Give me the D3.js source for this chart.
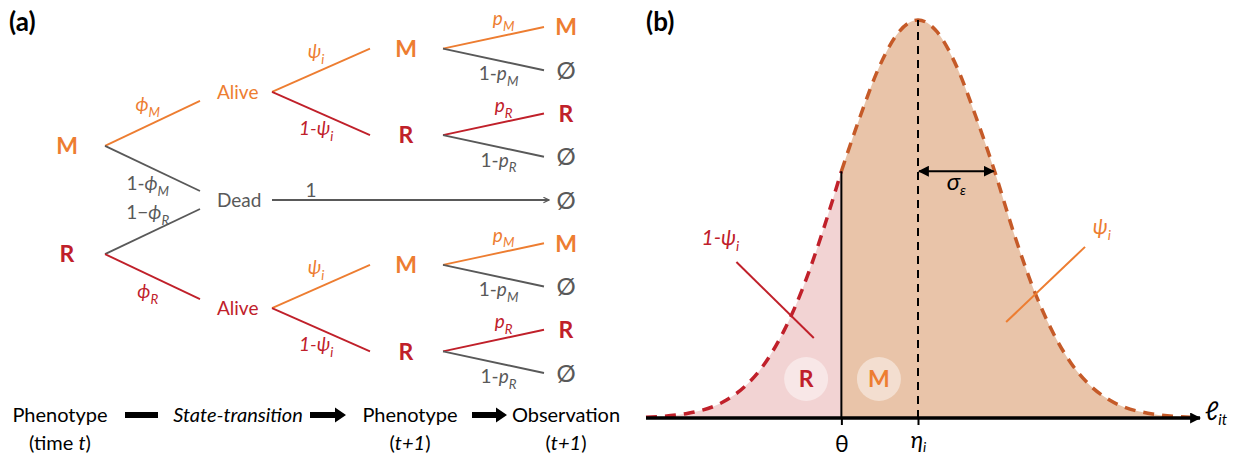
<!DOCTYPE html>
<html>
<head>
<meta charset="utf-8">
<script src="https://cdn.jsdelivr.net/npm/d3@7"></script>
<style>
  body { margin: 0; background: #fff; }
  svg { display: block; font-family: Lato, 'Open Sans', 'DejaVu Sans', sans-serif; }
</style>
</head>
<body>
<svg id="chart" width="1236" height="458"></svg>
<script>
// ---- (a) state-transition tree ----
const nodes = [
    {id: 'M0', name: 'M', level: 0, kind: 'M'},
    {id: 'R0', name: 'R', level: 0, kind: 'R'},
    {id: 'aliveM', name: 'Alive', level: 1, kind: 'M'},
    {id: 'dead', name: 'Dead', level: 1, kind: 'none'},
    {id: 'aliveR', name: 'Alive', level: 1, kind: 'R'},
    {id: 'M1', name: 'M', level: 2, kind: 'M'},
    {id: 'R1', name: 'R', level: 2, kind: 'R'},
    {id: 'M2', name: 'M', level: 2, kind: 'M'},
    {id: 'R2', name: 'R', level: 2, kind: 'R'},
    {id: 'o0', name: 'M', level: 3, kind: 'M'},
    {id: 'o1', name: 'Ø', level: 3, kind: 'none'},
    {id: 'o2', name: 'R', level: 3, kind: 'R'},
    {id: 'o3', name: 'Ø', level: 3, kind: 'none'},
    {id: 'o4', name: 'Ø', level: 3, kind: 'none'},
    {id: 'o5', name: 'M', level: 3, kind: 'M'},
    {id: 'o6', name: 'Ø', level: 3, kind: 'none'},
    {id: 'o7', name: 'R', level: 3, kind: 'R'},
    {id: 'o8', name: 'Ø', level: 3, kind: 'none'}
];

// [from, to, [prefix, symbol, subscript]]
const edges = [
    ['M0', 'aliveM', ['', 'ϕ', 'M']],
    ['M0', 'dead', ['1-', 'ϕ', 'M']],
    ['R0', 'dead', ['1−', 'ϕ', 'R']],
    ['R0', 'aliveR', ['', 'ϕ', 'R']],
    ['aliveM', 'M1', ['', 'ψ', 'i']],
    ['aliveM', 'R1', ['1-', 'ψ', 'i']],
    ['aliveR', 'M2', ['', 'ψ', 'i']],
    ['aliveR', 'R2', ['1-', 'ψ', 'i']],
    ['M1', 'o0', ['', 'p', 'M']],
    ['M1', 'o1', ['1-', 'p', 'M']],
    ['R1', 'o2', ['', 'p', 'R']],
    ['R1', 'o3', ['1-', 'p', 'R']],
    ['dead', 'o4', ['1', '', '']],
    ['M2', 'o5', ['', 'p', 'M']],
    ['M2', 'o6', ['1-', 'p', 'M']],
    ['R2', 'o7', ['', 'p', 'R']],
    ['R2', 'o8', ['1-', 'p', 'R']]
];

const flowSteps = [
    {top: [['Phenotype', false]], bottom: [['(time ', false], ['t', true], [')', false]]},
    {top: [['State-transition', true]], bottom: []},
    {top: [['Phenotype', false]], bottom: [['(', false], ['t+1', true], [')', false]]},
    {top: [['Observation', false]], bottom: [['(', false], ['t+1', true], [')', false]]}
];
const flowLinks = ['bar', 'arrow', 'arrow'];

// ---- (b) liability density ----
const liabilityX = [-3.55, -3, -2.5, -2.25, -2, -1.75, -1.5, -1.25, -1, -0.75, -0.5, -0.25, 0,
    0.25, 0.5, 0.75, 1, 1.25, 1.5, 1.75, 2, 2.25, 2.5, 3, 3.55];
const liabilityDensity = [0.002, 0.012, 0.045, 0.081, 0.137, 0.219, 0.328, 0.465, 0.62, 0.76, 0.885, 0.97, 1,
    0.97, 0.885, 0.76, 0.62, 0.465, 0.328, 0.219, 0.137, 0.081, 0.045, 0.012, 0.002];
const threshold = -1;     // θ
const meanLiability = 0;  // η_i
const sigmaEps = 1;       // σ_ε

const kindColor = {M: '#ED7D31', R: '#C0202A', none: '#595959'};
const svg = d3.select('#chart');

// markers
const defs = svg.append('defs');
defs.append('marker')
    .attr('id', 'grayHead').attr('viewBox', '0 0 10 10')
    .attr('refX', 9).attr('refY', 5)
    .attr('markerWidth', 7).attr('markerHeight', 7)
    .attr('markerUnits', 'userSpaceOnUse')
    .attr('orient', 'auto')
    .append('path').attr('d', 'M1,1 L9,5 L1,9').attr('fill', 'none')
    .attr('stroke', '#595959').attr('stroke-width', 1.6);
defs.append('marker')
    .attr('id', 'blackHead').attr('viewBox', '0 0 10 10')
    .attr('refX', 9).attr('refY', 5)
    .attr('markerWidth', 11).attr('markerHeight', 11)
    .attr('markerUnits', 'userSpaceOnUse')
    .attr('orient', 'auto-start-reverse')
    .append('path').attr('d', 'M0,0 L10,5 L0,10 Z').attr('fill', '#000');

// ================= panel (a) =================
const colX = d3.scaleOrdinal().domain([0, 1, 2, 3]).range([67, 217, 406, 566]);
const edgeStartX = d3.scaleOrdinal().domain([0, 1, 2]).range([105, 272, 443]);
const edgeEndX = d3.scaleOrdinal().domain([1, 2, 3]).range([200, 370, 544]);
const rowY = d3.scaleLinear().domain([0, 8]).range([27, 373]);

const byId = new Map(nodes.map(n => [n.id, n]));
nodes.filter(n => n.level === 3).forEach((n, i) => n.row = i);
[2, 1, 0].forEach(level => {
    nodes.filter(n => n.level === level).forEach(n => {
        const kids = edges.filter(e => e[0] === n.id).map(e => byId.get(e[1]).row);
        n.row = d3.mean(kids);
    });
});

const treeG = svg.append('g').attr('class', 'tree');

function addLabel(g, x, y, parts, color, size) {
    const [pre, sym, sub] = parts;
    const t = g.append('text')
        .attr('x', x).attr('y', y).attr('dy', '0.35em')
        .attr('text-anchor', 'middle')
        .attr('fill', color)
        .style('font-size', size + 'px');
    if (pre) t.append('tspan').text(pre).style('font-style', sym === 'ψ' ? 'italic' : 'normal');
    if (sym) t.append('tspan').text(sym).style('font-style', 'italic');
    if (sub) t.append('tspan').text(sub).attr('dy', size * 0.3)
        .style('font-style', 'italic').style('font-size', (size * 0.7) + 'px');
}

edges.forEach(([from, to, label]) => {
    const s = byId.get(from), t = byId.get(to);
    const dir = Math.sign(t.row - s.row);
    const x0 = edgeStartX(s.level), y0 = rowY(s.row);
    const isArrow = dir === 0;
    const x1 = isArrow ? edgeEndX(3) + 5 : edgeEndX(t.level);
    const y1 = rowY(t.row) - (t.level === 1 ? dir * 9 : 0);
    const color = kindColor[t.kind];

    treeG.append('line')
        .attr('x1', x0).attr('y1', y0).attr('x2', x1).attr('y2', y1)
        .attr('stroke', color).attr('stroke-width', 1.8)
        .attr('marker-end', isArrow ? 'url(#grayHead)' : null);

    if (isArrow) {
        addLabel(treeG, x0 + 39, y0 - 10, label, color, 19);
    } else {
        const f = t.level === 3 ? (dir < 0 ? 0.6 : 0.55) : 0.45;
        const off = t.level === 3 ? 15 : 19;
        addLabel(treeG, x0 + f * (x1 - x0), y0 + f * (y1 - y0) + dir * off - 2, label, color, 19);
    }
});

treeG.selectAll('text.node')
    .data(nodes)
    .join('text')
    .attr('class', 'node')
    .attr('x', d => colX(d.level))
    .attr('y', d => rowY(d.row))
    .attr('dy', '0.36em')
    .attr('text-anchor', d => d.level === 1 ? 'start' : 'middle')
    .attr('fill', d => kindColor[d.kind])
    .style('font-size', d => d.level === 1 ? '19px' : (d.name === 'Ø' ? '24px' : '23px'))
    .style('font-weight', d => (d.level === 1 || d.name === 'Ø') ? 'normal' : 'bold')
    .text(d => d.name);

// bottom flow row
const flowX = d3.scaleOrdinal().domain([0, 1, 2, 3]).range([60, 238, 410, 566]);
const linkSpan = [[125, 158], [310, 346], [472, 507]];
const flowG = svg.append('g').attr('class', 'flow');
flowSteps.forEach((step, i) => {
    [[step.top, 415], [step.bottom, 443]].forEach(([parts, y]) => {
        if (!parts.length) return;
        const t = flowG.append('text')
            .attr('x', flowX(i)).attr('y', y).attr('dy', '0.36em')
            .attr('text-anchor', 'middle').attr('fill', '#000')
            .style('font-size', '20px');
        parts.forEach(([txt, it]) => t.append('tspan').text(txt).style('font-style', it ? 'italic' : 'normal'));
    });
});
flowLinks.forEach((kind, i) => {
    const [a, b] = linkSpan[i];
    if (kind === 'bar') {
        flowG.append('rect').attr('x', a).attr('y', 412).attr('width', b - a).attr('height', 6).attr('fill', '#000');
    } else {
        flowG.append('path')
            .attr('d', `M${a},412 L${b - 11},412 L${b - 11},407.5 L${b},415 L${b - 11},422.5 L${b - 11},418 L${a},418 Z`)
            .attr('fill', '#000');
    }
});

// panel tags
svg.append('text').attr('x', 9).attr('y', 31).text('(a)')
    .style('font-size', '26px').style('font-weight', 'bold');
svg.append('text').attr('x', 646).attr('y', 31).text('(b)')
    .style('font-size', '26px').style('font-weight', 'bold');

// ================= panel (b) =================
const bx = d3.scaleLinear().domain([-3.55, 3.55]).range([646, 1190]);
const by = d3.scaleLinear().domain([0, 1]).range([418, 20]);
const pts = liabilityX.map((x, i) => ({x, y: liabilityDensity[i]}));
const leftPts = pts.filter(p => p.x <= threshold);
const rightPts = pts.filter(p => p.x >= threshold);
const densAtTheta = liabilityDensity[liabilityX.indexOf(threshold)];

const area = d3.area().curve(d3.curveMonotoneX)
    .x(d => bx(d.x)).y0(by(0)).y1(d => by(d.y));
const line = d3.line().curve(d3.curveMonotoneX)
    .x(d => bx(d.x)).y(d => by(d.y));

const bG = svg.append('g').attr('class', 'density');
bG.append('path').attr('d', area(leftPts)).attr('fill', '#F2D3D3');
bG.append('path').attr('d', area(rightPts)).attr('fill', '#E9C4A9');
bG.append('path').attr('d', line(leftPts)).attr('fill', 'none')
    .attr('stroke', '#C0202A').attr('stroke-width', 3.5).attr('stroke-dasharray', '11,8');
bG.append('path').attr('d', line(rightPts)).attr('fill', 'none')
    .attr('stroke', '#C55A28').attr('stroke-width', 3.5).attr('stroke-dasharray', '11,8');

// mean (dashed) and threshold (solid)
bG.append('line')
    .attr('x1', bx(meanLiability)).attr('x2', bx(meanLiability))
    .attr('y1', by(0)).attr('y2', by(1))
    .attr('stroke', '#000').attr('stroke-width', 2).attr('stroke-dasharray', '8,6');
bG.append('line')
    .attr('x1', bx(threshold)).attr('x2', bx(threshold))
    .attr('y1', by(0)).attr('y2', by(densAtTheta))
    .attr('stroke', '#000').attr('stroke-width', 2);

// sigma arrow
bG.append('line')
    .attr('x1', bx(meanLiability) + 1).attr('x2', bx(meanLiability + sigmaEps) - 1)
    .attr('y1', by(0.62)).attr('y2', by(0.62))
    .attr('stroke', '#000').attr('stroke-width', 2)
    .attr('marker-start', 'url(#blackHead)').attr('marker-end', 'url(#blackHead)');
const sig = bG.append('text')
    .attr('x', bx(meanLiability + sigmaEps / 2)).attr('y', by(0.62) + 19)
    .attr('text-anchor', 'middle').style('font-size', '24px').style('font-style', 'italic');
sig.append('tspan').text('σ');
sig.append('tspan').text('ε').attr('dy', 5).style('font-size', '14px');

// axis with arrow
const axis = d3.axisBottom(bx).tickValues([threshold, meanLiability]).tickSize(7).tickPadding(6).tickFormat(() => '');
const axG = bG.append('g').attr('transform', `translate(0,${by(0)})`).call(axis);
axG.select('.domain').remove();
axG.selectAll('.tick line').attr('stroke-width', 2);
axG.selectAll('.tick text').each(function (d) {
    const t = d3.select(this).style('font-size', '23px').attr('fill', '#000')
        .style('font-family', 'Lato, "Open Sans", "DejaVu Sans", sans-serif');
    if (d === threshold) {
        t.attr('dy', '21px');
        t.append('tspan').text('θ');
    } else {
        t.attr('dy', '17px');
        t.append('tspan').text('η').style('font-style', 'italic');
        t.append('tspan').text('i').attr('dy', 4).style('font-style', 'italic').style('font-size', '14px');
    }
});
bG.append('line')
    .attr('x1', bx(-3.55)).attr('x2', 1200)
    .attr('y1', by(0)).attr('y2', by(0))
    .attr('stroke', '#000').attr('stroke-width', 3.5)
    .attr('marker-end', 'url(#blackHead)');
const ell = bG.append('text').attr('x', 1205).attr('y', by(0) + 2)
    .style('font-size', '26px').style('font-style', 'italic');
ell.append('tspan').text('ℓ');
ell.append('tspan').text('it').attr('dy', 5).style('font-size', '15px');

// region badges
const badges = [
    {name: 'R', x: threshold - 0.46, kind: 'R'},
    {name: 'M', x: threshold + 0.49, kind: 'M'}
];
badges.forEach(b => {
    bG.append('circle').attr('cx', bx(b.x)).attr('cy', by(0.098)).attr('r', 22)
        .attr('fill', '#fff').attr('fill-opacity', 0.45);
    bG.append('text').attr('x', bx(b.x)).attr('y', by(0.098)).attr('dy', '0.36em')
        .attr('text-anchor', 'middle').attr('fill', kindColor[b.kind])
        .style('font-size', '23px').style('font-weight', 'bold').text(b.name);
});

// callouts
const callouts = [
    {pre: '1-', kind: 'R', text: [-2.58, 0.452], from: [-2.37, 0.392], to: [-1.36, 0.201]},
    {pre: '', kind: 'M', text: [2.40, 0.48], from: [2.18, 0.43], to: [1.15, 0.241]}
];
callouts.forEach(c => {
    bG.append('line')
        .attr('x1', bx(c.from[0])).attr('y1', by(c.from[1]))
        .attr('x2', bx(c.to[0])).attr('y2', by(c.to[1]))
        .attr('stroke', kindColor[c.kind]).attr('stroke-width', 2);
    const t = bG.append('text').attr('x', bx(c.text[0])).attr('y', by(c.text[1])).attr('dy', '0.35em')
        .attr('text-anchor', 'middle').attr('fill', kindColor[c.kind])
        .style('font-size', '21px').style('font-style', 'italic');
    if (c.pre) t.append('tspan').text(c.pre);
    t.append('tspan').text('ψ');
    t.append('tspan').text('i').attr('dy', 6).style('font-size', '14px');
});
</script>
</body>
</html>
